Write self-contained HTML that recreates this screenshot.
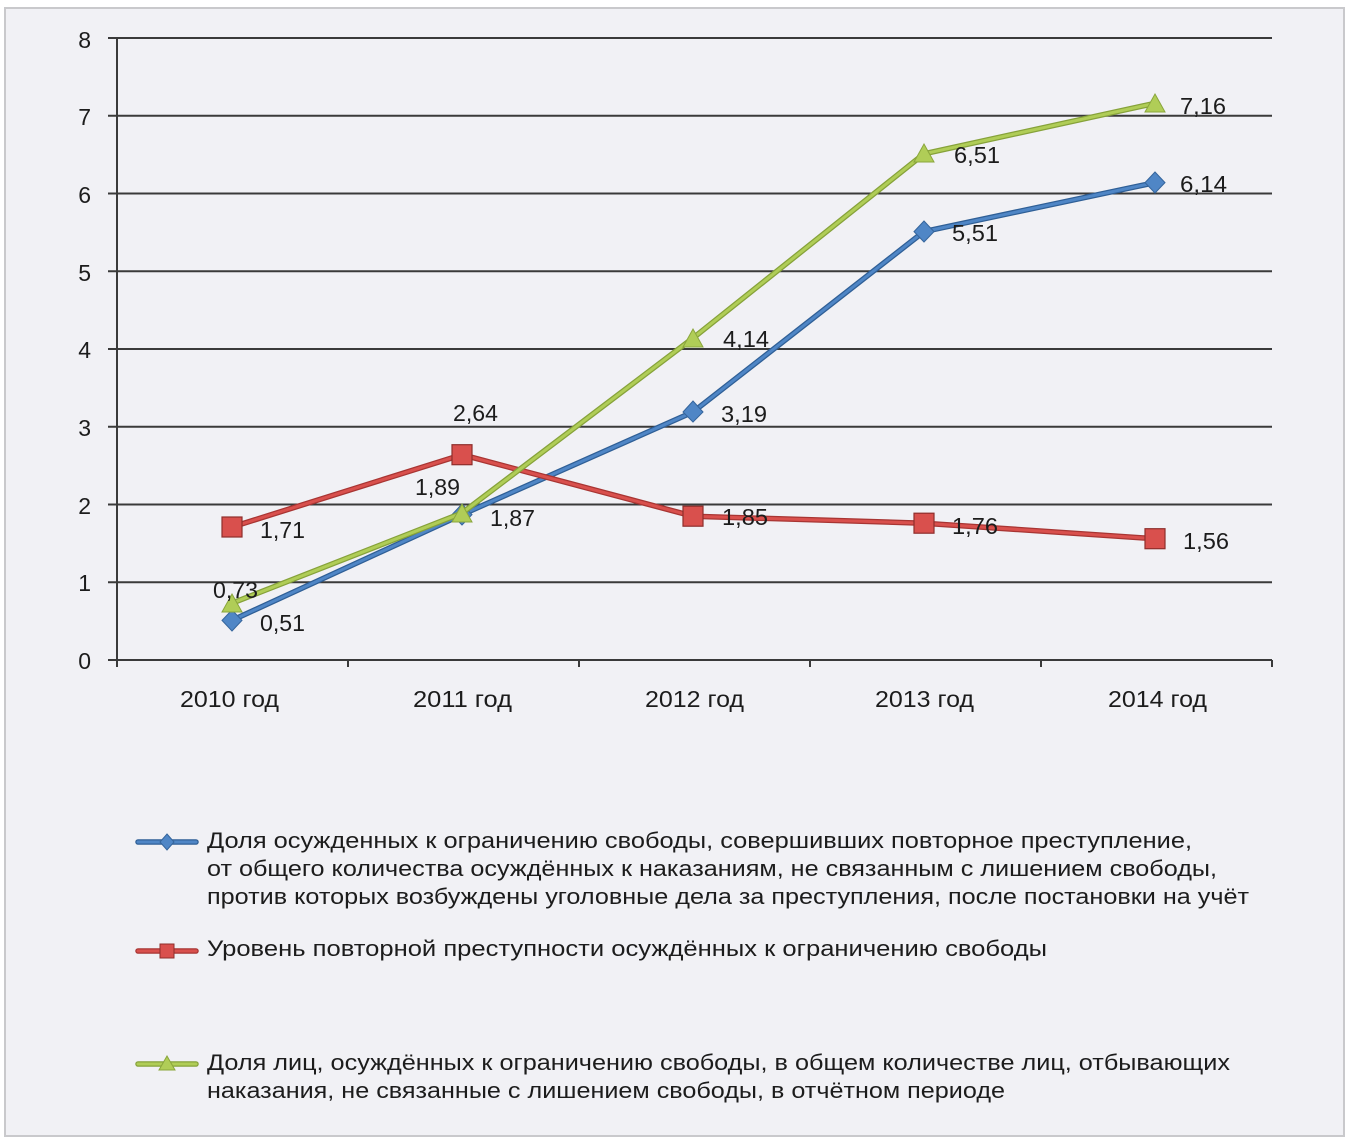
<!DOCTYPE html>
<html><head><meta charset="utf-8"><style>
html,body{margin:0;padding:0;background:#fff;}
svg{display:block;}
text{font-family:"Liberation Sans","DejaVu Sans",sans-serif;fill:#1c1c1c;}
</style></head><body>
<svg width="1352" height="1144" viewBox="0 0 1352 1144" xmlns="http://www.w3.org/2000/svg">
<rect x="0" y="0" width="1352" height="1144" fill="#fff"/>
<rect x="5" y="8" width="1339" height="1128" fill="#f1f1f5" stroke="#c9c9cc" stroke-width="2"/>
<!-- gridlines -->
<g stroke="#3a3a3a" stroke-width="2">
<line x1="108" y1="38" x2="1272" y2="38"/>
<line x1="108" y1="115.75" x2="1272" y2="115.75"/>
<line x1="108" y1="193.5" x2="1272" y2="193.5"/>
<line x1="108" y1="271.25" x2="1272" y2="271.25"/>
<line x1="108" y1="349" x2="1272" y2="349"/>
<line x1="108" y1="426.75" x2="1272" y2="426.75"/>
<line x1="108" y1="504.5" x2="1272" y2="504.5"/>
<line x1="108" y1="582.25" x2="1272" y2="582.25"/>
<line x1="108" y1="660" x2="1272" y2="660"/>
<line x1="117" y1="38" x2="117" y2="667"/>
<line x1="348" y1="660" x2="348" y2="667"/>
<line x1="579" y1="660" x2="579" y2="667"/>
<line x1="810" y1="660" x2="810" y2="667"/>
<line x1="1041" y1="660" x2="1041" y2="667"/>
<line x1="1272" y1="660" x2="1272" y2="667"/>
</g>
<!-- y labels -->
<g font-size="23" text-anchor="end">
<text x="91" y="48">8</text>
<text x="91" y="125">7</text>
<text x="91" y="203">6</text>
<text x="91" y="281">5</text>
<text x="91" y="358">4</text>
<text x="91" y="436">3</text>
<text x="91" y="514">2</text>
<text x="91" y="591">1</text>
<text x="91" y="669">0</text>
</g>
<!-- x labels -->
<g font-size="23">
<text x="180" y="707" textLength="99" lengthAdjust="spacingAndGlyphs">2010 год</text>
<text x="413" y="707" textLength="99" lengthAdjust="spacingAndGlyphs">2011 год</text>
<text x="645" y="707" textLength="99" lengthAdjust="spacingAndGlyphs">2012 год</text>
<text x="875" y="707" textLength="99" lengthAdjust="spacingAndGlyphs">2013 год</text>
<text x="1108" y="707" textLength="99" lengthAdjust="spacingAndGlyphs">2014 год</text>
</g>
<!-- blue series -->
<polyline points="232,620.35 462,514.6 693,412 924,231.6 1155,182.6" fill="none" stroke="#2f5f96" stroke-width="5.5" stroke-linejoin="round"/>
<polyline points="232,620.35 462,514.6 693,412 924,231.6 1155,182.6" fill="none" stroke="#4f86c6" stroke-width="3" stroke-linejoin="round"/>
<g fill="#4f86c6" stroke="#35659c" stroke-width="1">
<polygon points="232,610 242,620.35 232,631 222,620.35"/>
<polygon points="462,504 472,514.6 462,525 452,514.6"/>
<polygon points="693,401 703,412 693,422 683,412"/>
<polygon points="924,221 934,231.6 924,242 914,231.6"/>
<polygon points="1155,172 1165,182.6 1155,193 1145,182.6"/>
</g>
<!-- red series -->
<polyline points="232,527 462,454.7 693,516.2 924,523.2 1155,538.7" fill="none" stroke="#a83533" stroke-width="5.5" stroke-linejoin="round"/>
<polyline points="232,527 462,454.7 693,516.2 924,523.2 1155,538.7" fill="none" stroke="#d9504d" stroke-width="3" stroke-linejoin="round"/>
<g fill="#d9504d" stroke="#8e2e2c" stroke-width="1.2">
<rect x="222" y="517" width="20" height="20"/>
<rect x="452" y="444.7" width="20" height="20"/>
<rect x="683" y="506.2" width="20" height="20"/>
<rect x="914" y="513.2" width="20" height="20"/>
<rect x="1145" y="528.7" width="20" height="20"/>
</g>
<!-- green series -->
<polyline points="232,603.2 462,513.05 693,338.1 924,153.8 1155,103.3" fill="none" stroke="#86a23a" stroke-width="5.5" stroke-linejoin="round"/>
<polyline points="232,603.2 462,513.05 693,338.1 924,153.8 1155,103.3" fill="none" stroke="#b0cd57" stroke-width="3" stroke-linejoin="round"/>
<g fill="#b0cd57" stroke="#8aa63c" stroke-width="1">
<polygon points="232,594 242,612 222,612"/>
<polygon points="462,504 472,522 452,522"/>
<polygon points="693,329 703,347 683,347"/>
<polygon points="924,144 934,162 914,162"/>
<polygon points="1155,94 1165,112 1145,112"/>
</g>
<!-- data labels -->
<g font-size="23">
<text x="260" y="631" textLength="45" lengthAdjust="spacingAndGlyphs">0,51</text>
<text x="213" y="598" textLength="45" lengthAdjust="spacingAndGlyphs">0,73</text>
<text x="260" y="538" textLength="45" lengthAdjust="spacingAndGlyphs">1,71</text>
<text x="453" y="421" textLength="45" lengthAdjust="spacingAndGlyphs">2,64</text>
<text x="415" y="495" textLength="45" lengthAdjust="spacingAndGlyphs">1,89</text>
<text x="490" y="526" textLength="45" lengthAdjust="spacingAndGlyphs">1,87</text>
<text x="721" y="422" textLength="46" lengthAdjust="spacingAndGlyphs">3,19</text>
<text x="723" y="347" textLength="46" lengthAdjust="spacingAndGlyphs">4,14</text>
<text x="722" y="525" textLength="46" lengthAdjust="spacingAndGlyphs">1,85</text>
<text x="952" y="241" textLength="46" lengthAdjust="spacingAndGlyphs">5,51</text>
<text x="954" y="163" textLength="46" lengthAdjust="spacingAndGlyphs">6,51</text>
<text x="952" y="534" textLength="46" lengthAdjust="spacingAndGlyphs">1,76</text>
<text x="1180" y="192" textLength="47" lengthAdjust="spacingAndGlyphs">6,14</text>
<text x="1180" y="114" textLength="46" lengthAdjust="spacingAndGlyphs">7,16</text>
<text x="1183" y="549" textLength="46" lengthAdjust="spacingAndGlyphs">1,56</text>
</g>
<!-- legend icons -->
<line x1="138" y1="842" x2="196" y2="842" stroke="#2f5f96" stroke-width="5.5" stroke-linecap="round"/>
<line x1="138" y1="842" x2="196" y2="842" stroke="#4f86c6" stroke-width="3" stroke-linecap="round"/>
<polygon points="167,834 174,842 167,850 160,842" fill="#4f86c6" stroke="#35659c"/>
<line x1="138" y1="951" x2="196" y2="951" stroke="#a83533" stroke-width="5.5" stroke-linecap="round"/>
<line x1="138" y1="951" x2="196" y2="951" stroke="#d9504d" stroke-width="3" stroke-linecap="round"/>
<rect x="160" y="944" width="14" height="14" fill="#d9504d" stroke="#8e2e2c"/>
<line x1="138" y1="1064" x2="196" y2="1064" stroke="#86a23a" stroke-width="5.5" stroke-linecap="round"/>
<line x1="138" y1="1064" x2="196" y2="1064" stroke="#b0cd57" stroke-width="3" stroke-linecap="round"/>
<polygon points="167,1056 175,1070 159,1070" fill="#b0cd57" stroke="#8aa63c"/>
<!-- legend text -->
<g font-size="22">
<text x="207" y="848" textLength="985" lengthAdjust="spacingAndGlyphs">Доля осужденных к ограничению свободы, совершивших повторное преступление,</text>
<text x="207" y="876" textLength="1010" lengthAdjust="spacingAndGlyphs">от общего количества осуждённых к наказаниям, не связанным с лишением свободы,</text>
<text x="207" y="904" textLength="1042" lengthAdjust="spacingAndGlyphs">против которых возбуждены уголовные дела за преступления, после постановки на учёт</text>
<text x="207" y="956" textLength="840" lengthAdjust="spacingAndGlyphs">Уровень повторной преступности осуждённых к ограничению свободы</text>
<text x="207" y="1070" textLength="1023" lengthAdjust="spacingAndGlyphs">Доля лиц, осуждённых к ограничению свободы, в общем количестве лиц, отбывающих</text>
<text x="207" y="1098" textLength="798" lengthAdjust="spacingAndGlyphs">наказания, не связанные с лишением свободы, в отчётном периоде</text>
</g>
</svg>
</body></html>
